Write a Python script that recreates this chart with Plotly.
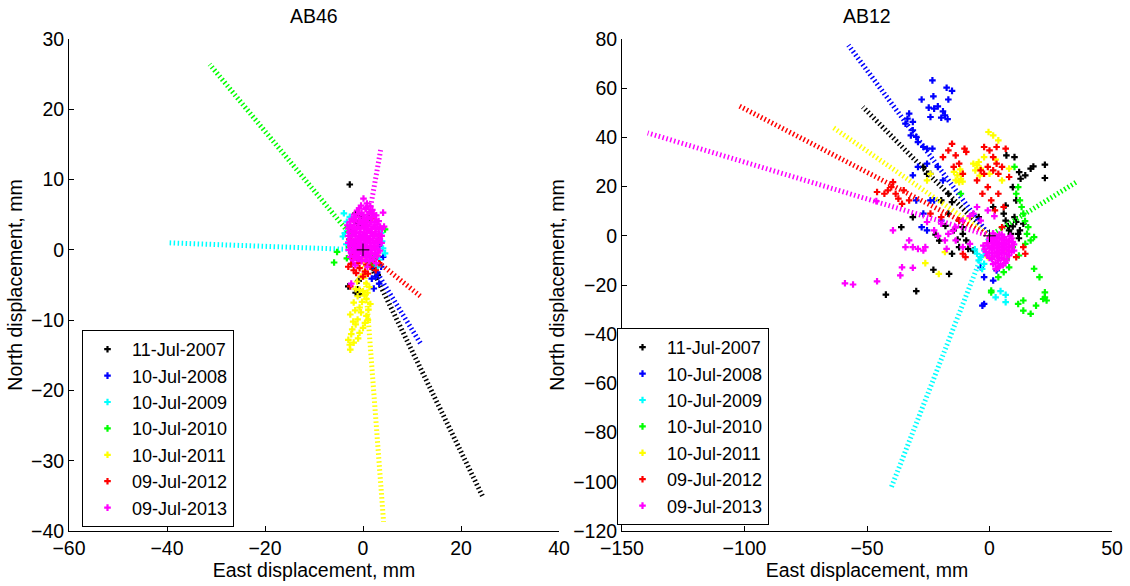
import plotly.graph_objects as go

# ---------------- data ----------------
DATES = ["11-Jul-2007", "10-Jul-2008", "10-Jul-2009", "10-Jul-2010",
         "10-Jul-2011", "09-Jul-2012", "09-Jul-2013"]
COLORS = ["#000000", "#0000ff", "#00ffff", "#00ff00", "#ffff00", "#ff0000", "#ff00ff"]

# AB46: direction-line end points (lines start at the origin)
AB46_END_X = [24.5, 11.9, -39.7, -31.3, 4.2, 11.9, 3.6]
AB46_END_Y = [-35.2, -13.5, 1.0, 26.4, -38.7, -6.7, 14.2]

# AB12: direction-line end points
AB12_END_X = [-51.7, -57.6, -40.1, 35.4, -64.1, -102.8, -139.5]
AB12_END_Y = [52.4, 77.5, -102.3, 21.8, 44.2, 53.1, 41.8]

# AB46 displacement points (east, north) in mm
AB46_2007 = [(-2.7, 9.3), (-1.5, 5.2), (-1.9, 4.3), (-0.7, 4.8), (0.0, 4.4), (-2.6, 2.9), (-1.2, 3.8),
             (-0.3, 3.4), (-1.5, -6.1), (-0.7, -6.3), (-1.1, -5.6), (-3.0, -5.2), (3.0, -3.6), (2.4, -2.9),
             (1.8, -2.2), (-2.2, -0.8), (1.2, 4.6), (-0.9, -4.4)]
AB46_2008 = [(2.6, -3.8), (3.3, -4.8), (2.2, -5.5), (3.7, -2.4), (4.1, -1.0), (2.9, -3.2), (1.8, -4.1),
             (-2.3, -2.0), (3.4, 0.6), (-1.0, -1.4), (2.0, -1.2)]
AB46_2009 = [(-3.9, 5.2), (-3.3, 4.0), (-3.7, 2.4), (-4.1, 1.9), (-3.0, 3.3), (-2.7, 4.7), (4.1, 0.2),
             (3.7, 2.4), (4.5, -0.5), (3.3, -1.4), (3.0, -2.4), (-3.4, 0.8), (2.2, -1.8), (3.9, 1.2)]
AB46_2010 = [(-5.9, -1.8), (-5.3, -0.3), (-3.3, -1.2), (3.3, 1.9), (4.5, 2.9), (-2.8, 0.4), (2.5, -0.8),
             (1.9, -1.9)]
AB46_2011 = [(-1.5, -5.6), (0.0, -5.9), (0.7, -7.0), (-1.9, -7.5), (-0.7, -8.2), (1.1, -8.5), (-2.6, -9.2),
             (-1.1, -9.9), (0.4, -10.4), (-2.2, -11.3), (-0.7, -11.8), (-3.0, -12.8), (-1.9, -13.2),
             (-2.6, -14.2), (1.5, -7.7), (0.7, -9.4), (-0.4, -8.9), (-1.1, -6.6), (0.0, -11.1), (-1.5, -10.6),
             (-0.7, -5.7), (0.7, -4.8), (-0.4, -3.8), (-1.2, -4.5), (0.3, -6.5), (-2.0, -10.2), (-0.2, -7.4),
             (-1.6, -8.6), (-2.4, -12.0), (0.9, -6.1), (-1.0, -12.6), (1.0, -10.0), (-2.7, -13.5), (0.2, -3.6),
             (1.3, -5.3)]
AB46_2012 = [(-3.0, -2.4), (-1.9, -2.9), (-0.7, -2.6), (0.4, -3.1), (1.5, -2.4), (2.6, -2.9), (0.7, -2.1),
             (-1.1, -1.9), (-2.6, -5.2), (3.3, -1.9), (-2.2, -1.0), (0.0, -3.8), (-2.4, -2.0), (-1.4, -3.3),
             (1.0, -3.4), (2.0, -1.6), (-0.3, -1.5), (-2.8, 1.5), (1.8, 4.6), (-1.7, 0.9), (2.9, -0.8)]
AB46_2013 = [(-1.2, 5.6), (-0.3, 5.3), (0.5, 5.8), (1.3, 5.4), (2.2, 5.1),
             (-2.3, 4.4), (-1.4, 4.7), (-0.6, 4.3), (0.3, 4.6), (1.0, 4.4), (1.8, 4.7), (2.6, 4.3),
             (-2.6, 3.4), (-1.8, 3.6), (-1.0, 3.3), (-0.2, 3.7), (0.6, 3.4), (1.3, 3.6), (2.1, 3.3),
             (2.9, 3.6), (3.5, 3.3),
             (-2.8, 2.5), (-2.0, 2.7), (-1.3, 2.4), (-0.5, 2.6), (0.3, 2.4), (1.1, 2.7), (1.8, 2.4),
             (2.6, 2.6), (3.3, 2.3),
             (-2.7, 1.5), (-1.9, 1.3), (-1.1, 1.6), (-0.4, 1.4), (0.4, 1.6), (1.2, 1.4), (2.0, 1.6),
             (2.7, 1.3), (3.4, 1.5),
             (-2.6, 0.5), (-1.8, 0.7), (-1.0, 0.4), (-0.2, 0.6), (0.6, 0.4), (1.4, 0.6), (2.2, 0.4),
             (3.0, 0.6),
             (-2.4, -0.5), (-1.6, -0.3), (-0.8, -0.6), (0.0, -0.4), (0.8, -0.6), (1.6, -0.4), (2.4, -0.6),
             (3.1, -0.4),
             (-2.0, -1.5), (-1.1, -1.3), (-0.3, -1.6), (0.5, -1.4), (1.3, -1.6), (2.1, -1.4),
             (-1.8, 5.0), (-0.9, 5.1), (0.0, 4.9), (0.9, 5.0), (1.8, 5.1), (2.7, 4.9),
             (-2.7, 4.0), (-1.8, 4.1), (-0.9, 3.9), (0.0, 4.1), (0.8, 3.9), (1.6, 4.0), (2.4, 3.9), (3.2, 4.1),
             (-3.0, 3.0), (-2.2, 3.1), (-1.4, 2.9), (-0.6, 3.0), (0.2, 3.1), (1.0, 2.9), (1.7, 3.0),
             (2.5, 3.1), (3.2, 2.9), (3.9, 3.0),
             (-3.0, 2.0), (-2.3, 2.1), (-1.5, 1.9), (-0.8, 2.0), (0.0, 2.1), (0.8, 1.9), (1.5, 2.0),
             (2.3, 2.1), (3.0, 1.9), (3.7, 2.0),
             (-3.0, 1.0), (-2.3, 0.9), (-1.5, 1.1), (-0.7, 1.0), (0.1, 0.9), (0.9, 1.1), (1.6, 1.0),
             (2.4, 0.9), (3.1, 1.1), (3.8, 1.0),
             (-2.9, 0.0), (-2.1, 0.1), (-1.4, -0.1), (-0.6, 0.0), (0.2, 0.1), (1.0, -0.1), (1.8, 0.0),
             (2.6, 0.1), (3.4, -0.1),
             (-2.6, -1.0), (-1.8, -0.9), (-1.0, -1.1), (-0.2, -1.0), (0.6, -0.9), (1.4, -1.1), (2.2, -1.0),
             (2.9, -0.9),
             (-0.8, 5.9), (0.6, 6.0), (1.9, 5.7),
             (0.1, 7.3), (1.5, 6.2), (-0.4, 6.3), (4.1, 5.3), (4.3, 3.3), (-3.2, 3.5), (-1.6, -2.2),
             (0.9, -2.4), (2.7, -1.9), (-2.4, -4.8), (0.8, 6.6), (3.8, 2.0)]

# AB12 displacement points (east, north) in mm
AB12_2007 = [(10.9, 5.6), (12.4, 2.2), (8.7, 0.8), (13.8, 4.9), (10.2, 7.6), (6.6, 6.2), (8.0, 2.2),
             (11.7, 0.8), (5.8, 9.0), (9.5, 3.8), (12.0, -1.0), (7.5, 4.0),
             (22.6, 28.9), (22.6, 23.5), (17.9, 28.2), (14.6, 24.6), (12.1, 25.9), (10.2, 32.0), (6.9, 32.7),
             (12.7, 23.2), (9.5, 19.8), (10.9, 14.4), (6.6, 12.3), (16.8, 27.3),
             (-16.8, 17.1), (-15.3, 13.7), (-12.4, 6.2), (-10.9, 0.8), (-9.5, -1.9), (-8.7, -5.3),
             (-12.4, -4.6), (-6.6, -6.0), (-14.6, 2.2), (-16.8, 9.0), (-19.7, 14.4), (-25.5, 25.2),
             (-27.0, 28.0), (-31.3, 7.6), (-15.3, -7.3), (-4.4, 7.6), (-13.0, -1.5), (-11.0, 3.5),
             (-18.0, 4.0), (-36.0, 3.5), (-42.3, -23.9), (-29.9, -22.5), (-22.9, -13.8), (-16.5, -15.5),
             (1.5, 11.7), (-22.0, 0.5), (-20.5, -2.0)]
AB12_2008 = [(-23.3, 63.2), (-27.7, 55.4), (-22.9, 56.7), (-17.5, 60.2), (-15.3, 58.9), (-16.8, 55.4),
             (-24.8, 52.1), (-22.6, 51.7), (-21.1, 52.6), (-19.0, 50.6), (-18.2, 49.0), (-17.1, 47.4),
             (-19.7, 48.0), (-24.1, 48.3),
             (-32.8, 49.7), (-33.5, 47.6), (-34.3, 45.6), (-31.3, 42.9), (-32.1, 40.8), (-29.9, 40.2),
             (-29.2, 38.1), (-27.0, 36.1), (-31.3, 46.3), (-25.5, 35.4),
             (-23.3, 35.4), (-25.5, 29.3), (-29.2, 28.0), (-31.3, 24.6), (-24.1, 25.2), (-21.1, 28.0),
             (-22.6, 14.4), (-27.0, 9.0), (-27.7, 3.5), (-25.5, 2.2), (-19.7, 6.2), (-24.1, 14.4),
             (-29.9, 14.4), (-19.0, 22.5),
             (-3.6, -12.8), (-2.2, -16.8), (1.5, -18.2), (2.9, -14.1), (-2.2, -27.7), (-2.9, -28.4)]
AB12_2009 = [(-3.6, -8.7), (-5.1, -7.3), (-4.4, -10.0), (-2.2, -11.4), (-1.5, -7.3), (2.5, -25.0),
             (6.6, -27.0), (6.6, -24.0), (4.5, -22.5), (-6.0, -5.5), (-3.0, -13.5), (0.5, -9.0)]
AB12_2010 = [(12.4, 14.4), (13.1, 11.7), (10.9, 17.1), (13.8, 9.0), (11.7, 19.8), (15.3, 0.8), (16.8, -1.9),
             (18.2, -0.5), (14.6, -3.3), (9.5, -4.6), (8.0, -12.8), (5.8, -14.8), (3.6, -16.8), (0.7, -22.3),
             (18.2, -13.4), (20.4, -16.8), (22.6, -25.0), (11.7, -27.7), (13.8, -26.3), (16.8, -31.7),
             (19.0, -28.4), (21.9, -25.7), (23.3, -26.3), (22.6, -23.0), (0.7, -23.0), (13.8, -30.4),
             (-11.7, 17.1), (10.2, 28.0), (14.5, 6.0), (12.0, -8.0), (7.0, -9.5), (15.8, 3.5)]
AB12_2011 = [(-13.1, 24.6), (-11.7, 23.2), (-13.8, 22.5), (-10.9, 25.2), (-12.4, 21.8), (-11.0, 22.0),
             (-5.1, 28.6), (-6.6, 29.3), (-3.6, 27.3), (-5.8, 26.6), (-4.4, 30.0), (-0.4, 42.2), (1.5, 40.8),
             (3.6, 38.8), (-24.1, 25.2), (-25.5, 22.5), (8.0, 27.3), (5.1, 22.5), (-2.2, 32.0), (0.0, 25.2),
             (-18.2, -6.6), (-26.2, -11.1), (-20.7, -15.5), (3.6, -7.3), (-0.7, -8.7), (6.6, -6.0),
             (-8.0, 7.6), (-14.5, 26.0), (-12.0, 27.0), (-4.0, 24.5), (2.5, 31.0), (-1.0, -3.0)]
AB12_2012 = [(-15.3, 37.4), (-16.8, 34.7), (-13.8, 32.7), (-12.4, 29.3), (-9.5, 34.1), (-10.2, 35.4),
             (-19.0, 32.0), (-14.6, 28.0), (-10.9, 25.2), (-2.2, 36.1), (0.0, 34.7), (1.5, 32.0), (2.9, 36.1),
             (6.6, 35.4), (-0.7, 28.0), (-2.2, 25.2), (1.5, 26.6), (3.6, 25.2), (-3.6, 26.6), (-5.1, 22.5),
             (2.9, 29.3), (5.1, 28.0), (8.0, 23.9), (-2.9, 17.1), (-0.7, 19.8), (0.7, 14.4), (3.6, 17.1),
             (2.2, 10.3), (5.8, 11.7),
             (-40.1, 19.8), (-38.3, 17.1), (-37.2, 15.1), (-41.5, 18.5), (-42.9, 17.1), (-45.9, 17.8),
             (-35.7, 13.0), (-35.0, 18.5), (-39.4, 21.8), (-32.8, 14.4),
             (-24.1, 9.0), (-12.4, 6.2), (-10.9, -7.3), (-9.8, -8.7), (13.8, -4.6), (14.6, -7.3),
             (10.9, -8.7), (-19.7, 7.6), (5.1, 3.5)]
AB12_2013 = [(0.0, -1.0), (2.0, -0.5), (4.0, -1.0), (6.0, -1.5), (8.0, -2.0), (-1.0, -3.0), (1.0, -3.0),
             (3.0, -2.5), (5.0, -3.0), (7.0, -3.5), (9.0, -4.0), (0.0, -5.0), (2.0, -5.0), (4.0, -4.5),
             (6.0, -5.0), (8.0, -6.0), (-1.5, -6.5), (1.0, -7.0), (3.0, -6.5), (5.0, -7.0), (7.0, -7.5),
             (0.0, -9.0), (2.0, -8.5), (4.0, -9.0), (6.0, -9.5), (2.5, -11.0), (4.5, -11.5), (3.0, -1.0),
             (5.0, 0.5), (1.5, 1.0), (3.5, -13.0), (8.5, 0.0), (9.5, -2.5), (10.0, -6.0), (-2.5, -4.0),
             (6.5, -11.0), (3.5, -3.5), (1.5, -4.0), (5.5, -5.5), (4.0, -7.5), (2.0, -2.0), (6.0, -3.0),
             (1.0, -1.5), (3.0, -0.5), (5.0, -1.5), (7.0, -2.0), (0.0, -2.0), (2.0, -3.5), (4.0, -3.0),
             (6.0, -4.0), (8.0, -4.5), (-0.5, -4.0), (1.0, -5.5), (3.0, -5.0), (5.0, -4.5), (7.0, -5.5),
             (9.0, -6.5), (0.0, -7.0), (2.0, -7.0), (4.0, -6.0), (6.0, -7.0), (8.0, -8.0), (1.0, -9.5),
             (3.0, -8.0), (5.0, -9.0), (7.0, -10.0), (3.5, -10.0), (1.5, -11.5), (5.5, -12.0), (4.0, -12.5),
             (2.5, -13.5), (6.0, -0.5), (4.0, 0.5), (2.0, 0.0), (9.0, -1.0), (10.0, -3.5), (-2.0, -5.5),
             (-1.0, -8.0),
             (-25.5, 5.6), (-22.6, 2.2), (-19.7, 4.9), (-16.8, 0.8), (-13.8, 3.5), (-10.9, 6.2), (-6.6, 9.0),
             (-3.6, 6.2), (-0.7, 10.3), (-32.8, -1.9), (-31.3, -4.6), (-29.2, -5.3), (-27.0, -6.0),
             (-26.2, -4.6), (-34.3, -4.6), (-39.4, 2.2), (-46.2, 14.1), (-35.7, -12.8), (-31.3, -13.0),
             (-36.4, -16.1), (-45.9, -18.5), (-59.0, -19.3), (-55.7, -19.8), (-17.5, -5.3), (-13.8, -1.9),
             (-18.2, -1.9), (-10.9, -4.6), (-8.0, -3.3), (-5.1, 11.7), (-8.0, 8.0), (2.0, 8.0),
             (-21.0, 0.0), (-15.0, 2.0)]

AB46_POINTS = [AB46_2007, AB46_2008, AB46_2009, AB46_2010, AB46_2011, AB46_2012, AB46_2013]
AB12_POINTS = [AB12_2007, AB12_2008, AB12_2009, AB12_2010, AB12_2011, AB12_2012, AB12_2013]

X_TICKS_L = [-60, -40, -20, 0, 20, 40]
Y_TICKS_L = [-40, -30, -20, -10, 0, 10, 20, 30]
X_TICKS_R = [-150, -100, -50, 0, 50]
Y_TICKS_R = [-120, -100, -80, -60, -40, -20, 0, 20, 40, 60, 80]

# ---------------- figure ----------------
FONT = "Liberation Sans, Arial, Helvetica, sans-serif"
FS = 19.5
W, H = 1130, 586
ML, MR, MT, MB = 69, 18, 39, 55
PW = W - ML - MR
PH = H - MT - MB

def px_x(p):
    return (p - ML) / PW

def px_y(p):
    return (H - MB - p) / PH

fig = go.Figure()

def add_station(points, end_x, end_y, xa, ya, legend):
    for i, (pts, col, name) in enumerate(zip(points, COLORS, DATES)):
        fig.add_trace(go.Scatter(
            x=[p[0] for p in pts], y=[p[1] for p in pts], mode="markers",
            marker=dict(symbol="cross", size=5.5, color=col, line=dict(width=0)),
            name=name, legend=legend,
            xaxis=xa, yaxis=ya, showlegend=True, hoverinfo="skip"))
        fig.add_trace(go.Scatter(
            x=[0, end_x[i]], y=[0, end_y[i]], mode="lines",
            line=dict(color=col, width=5, dash="1.5px,2.5px"),
            legend=legend,
            xaxis=xa, yaxis=ya, showlegend=False, hoverinfo="skip"))
    fig.add_trace(go.Scatter(
        x=[0], y=[0], mode="markers",
        marker=dict(symbol="cross-thin", size=9, color="black", line=dict(width=1, color="black")),
        xaxis=xa, yaxis=ya, showlegend=False, hoverinfo="skip"))

add_station(AB46_POINTS, AB46_END_X, AB46_END_Y, "x", "y", "legend")
add_station(AB12_POINTS, AB12_END_X, AB12_END_Y, "x2", "y2", "legend2")

axis_common = dict(showline=True, linecolor="black", linewidth=1, mirror=False,
                   ticks="inside", ticklen=5, tickcolor="black", tickwidth=1,
                   showgrid=False, zeroline=False,
                   tickfont=dict(family=FONT, size=FS, color="black"))

def xtitle(text):
    return dict(text=text, standoff=2, font=dict(family=FONT, size=FS, color="black"))

def ytitle(text):
    return dict(text=text, standoff=3, font=dict(family=FONT, size=FS, color="black"))

legend_common = dict(xanchor="left", yanchor="bottom",
                     bgcolor="white", bordercolor="black", borderwidth=1,
                     font=dict(family=FONT, size=18, color="black"),
                     itemwidth=39)

fig.update_layout(
    width=W, height=H,
    margin=dict(l=ML, r=MR, t=MT, b=MB, autoexpand=False),
    paper_bgcolor="white", plot_bgcolor="white",
    font=dict(family=FONT, size=FS, color="black"),
    xaxis=dict(domain=[0, px_x(559)], range=[-60, 40], tickvals=X_TICKS_L,
               title=xtitle("East displacement, mm"), anchor="y", **axis_common),
    yaxis=dict(domain=[0, 1], range=[-40, 30], tickvals=Y_TICKS_L,
               title=ytitle("North displacement, mm"), anchor="x", **axis_common),
    xaxis2=dict(domain=[px_x(622), 1], range=[-150, 50], tickvals=X_TICKS_R,
                title=xtitle("East displacement, mm"), anchor="y2", **axis_common),
    yaxis2=dict(domain=[0, 1], range=[-120, 80], tickvals=Y_TICKS_R,
                title=ytitle("North displacement, mm"), anchor="x2", **axis_common),
    legend=dict(x=px_x(82), y=px_y(527), **legend_common),
    legend2=dict(x=px_x(617), y=px_y(525), **legend_common),
    annotations=[
        dict(text="AB46", x=(px_x(69) + px_x(559)) / 2, y=1, xref="paper", yref="paper",
             xanchor="center", yanchor="bottom", yshift=10, showarrow=False,
             font=dict(family=FONT, size=FS, color="black")),
        dict(text="AB12", x=(px_x(622) + px_x(1112)) / 2, y=1, xref="paper", yref="paper",
             xanchor="center", yanchor="bottom", yshift=10, showarrow=False,
             font=dict(family=FONT, size=FS, color="black")),
    ],
)

fig.write_html("out.html")
